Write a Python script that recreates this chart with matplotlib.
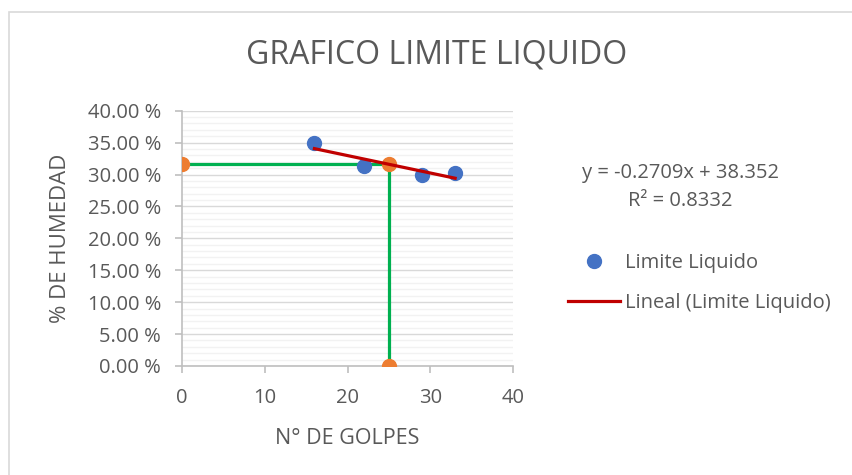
import matplotlib.pyplot as plt
import numpy as np
from matplotlib.ticker import MultipleLocator, FuncFormatter

plt.rcParams["font.family"] = ["Open Sans", "DejaVu Sans"]

# datos del ensayo
golpes = [16, 22, 29, 33]
humedad = [34.9, 31.3, 30.0, 30.2]

# lectura del limite liquido a 25 golpes
ll_x = [0, 25, 25]
ll_y = [31.6, 31.6, 0]

title = "GRAFICO LIMITE LIQUIDO"
ecuacion = "y = -0.2709x + 38.352"
r2 = "R² = 0.8332"

gray = "#595959"

fig = plt.figure(figsize=(8.52, 4.75), dpi=100)
ax = fig.add_axes([0.2136, 0.2295, 0.3886, 0.5375])

# guias verdes
ax.plot(ll_x, ll_y, color="#00B050", lw=2.3, zorder=3, solid_capstyle="butt")

ax.plot(golpes, humedad, "o", color="#4472C4", ms=10, zorder=4, label="Limite Liquido")
ax.plot(ll_x, ll_y, "o", color="#ED7D31", ms=10, zorder=5)

m, b = np.polyfit(golpes, humedad, 1)
xt = np.array([min(golpes), max(golpes)])
ax.plot(xt, m * xt + b, color="#C00000", lw=2.3, zorder=6, label="Lineal (Limite Liquido)")

ax.set_xlim(0, 40)
ax.set_ylim(0, 40)
ax.xaxis.set_major_locator(MultipleLocator(10))
ax.yaxis.set_major_locator(MultipleLocator(5))
ax.yaxis.set_minor_locator(MultipleLocator(1))
ax.yaxis.set_major_formatter(FuncFormatter(lambda v, p: f"{v:.2f} %"))

ax.grid(which="major", axis="y", color="#D9D9D9", lw=1)
ax.grid(which="minor", axis="y", color="#F2F2F2", lw=1)
ax.set_axisbelow(True)

for s in ["top", "right"]:
    ax.spines[s].set_visible(False)
for s in ["left", "bottom"]:
    ax.spines[s].set_color("#BFBFBF")
    ax.spines[s].set_linewidth(1.2)

ax.tick_params(which="major", colors="#BFBFBF", labelcolor=gray, labelsize=14.5, length=5, width=1.2, pad=10)
ax.tick_params(axis="x", which="major", pad=11)
ax.tick_params(which="minor", length=0)

ax.set_xlabel("N° DE GOLPES", fontsize=15.5, color=gray, labelpad=14)
ax.set_ylabel("% DE HUMEDAD", fontsize=16, color=gray, labelpad=12)

fig.text(0.513, 0.884, title, ha="center", va="center", fontsize=23, color=gray)
fig.text(0.799, 0.636, ecuacion, ha="center", va="center", fontsize=14.5, color=gray)
fig.text(0.799, 0.577, r2, ha="center", va="center", fontsize=14.5, color=gray)

leg = fig.legend(loc="center left", bbox_to_anchor=(0.655, 0.405), frameon=False,
                 fontsize=14.5, labelcolor=gray, handlelength=2.6, handletextpad=0.2,
                 labelspacing=1.0, borderpad=0)

# borde del grafico
fig.patches.append(plt.Rectangle((0.011, -0.02), 1.2, 0.995, transform=fig.transFigure,
                                 fill=False, ec="#D9D9D9", lw=1.2))

fig.savefig("out.png", dpi=100)
